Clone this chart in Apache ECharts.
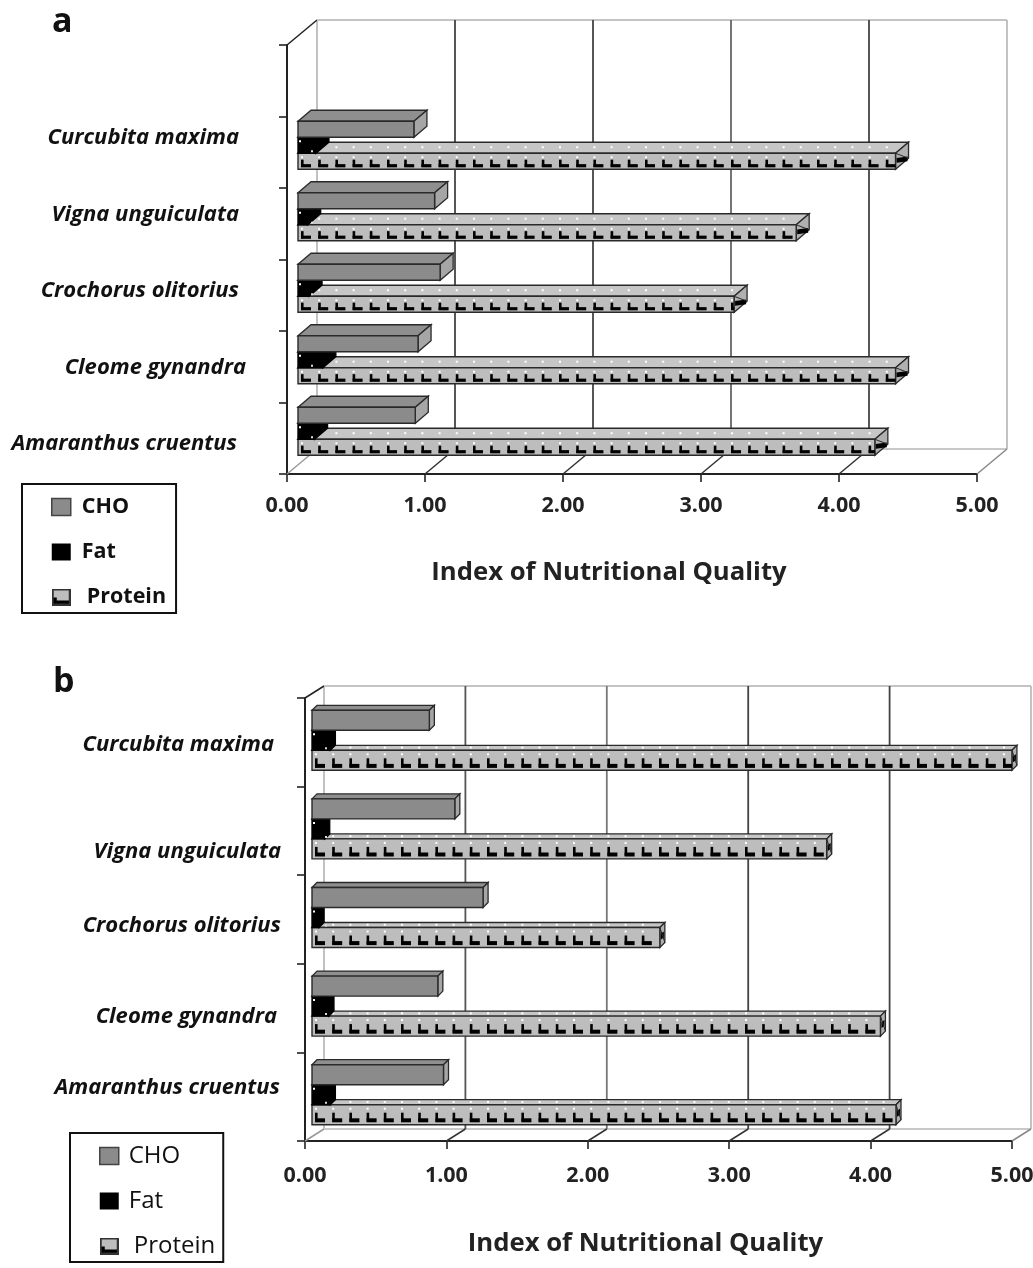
<!DOCTYPE html>
<html><head><meta charset="utf-8">
<style>html,body{margin:0;padding:0;background:#fff}#c{width:1033px;height:1268px;filter:blur(0.45px)}</style>
<script src="https://cdn.jsdelivr.net/npm/echarts@6/dist/echarts.min.js"></script>
</head><body><div id="c"></div>
<script>
// ---- data (bottom category first) ----
const categoriesA = ['Amaranthus cruentus','Cleome gynandra','Crochorus olitorius','Vigna unguiculata','Curcubita maxima',''];
const choA     = [0.85,0.87,1.03,0.99,0.84];
const fatA     = [0.12,0.18,0.08,0.07,0.13];
const proteinA = [4.18,4.33,3.16,3.61,4.33];

const categoriesB = ['Amaranthus cruentus','Cleome gynandra','Crochorus olitorius','Vigna unguiculata','Curcubita maxima'];
const choB     = [0.93,0.89,1.21,1.01,0.83];
const fatB     = [0.13,0.12,0.05,0.09,0.13];
const proteinB = [4.13,4.02,2.46,3.64,4.95];

const xTicks = [0,1,2,3,4,5];
const axisTitle = 'Index of Nutritional Quality';
const FONT = '"Open Sans", sans-serif';

// ---- per-panel styling ----
const panelA = {
  idx:0, left:287, width:690, top:45, height:429,
  wall:{dx:30,dy:-25}, bar:{dx:11,dy:-9}, face:{dx:13,dy:-11},
  barH:16, barTop:-31, period:17.2,
  labelShift:[5,1,-5,-9,-15,0], labelRight:[50,41,48,48,48,0],
  gridColors:['#bbb','#444','#444','#666','#444','#bbb'],
  floorColors:['#999','#333','#333','#333','#333','#888'],
  labelMargin:21, titleGap:86, titlePad:46,
  legend:{left:22,top:484,padL:29,padR:10,padT:12,padB:5,gap:23,font:21.5,weight:'bold',textGap:11}
};
const panelB = {
  idx:1, left:305, width:707, top:698, height:443,
  wall:{dx:19,dy:-12}, bar:{dx:7,dy:-5}, face:{dx:5,dy:-5},
  barH:20, barTop:-32, period:17.2,
  labelShift:[-9,9,6,21,2], labelRight:[25,28,24,24,31],
  gridColors:['#bbb','#555','#777','#444','#444','#bbb'],
  floorColors:['#999','#333','#333','#333','#333','#888'],
  labelMargin:24, titleGap:90, titlePad:26,
  legend:{left:70,top:1133,padL:29,padR:8,padT:11,padB:4,gap:21,font:24,weight:'normal',textGap:10}
};

function poly(points, fill, stroke, lw){
  return {type:'polygon',shape:{points},style:{fill,stroke:stroke||null,lineWidth:lw||1},silent:true};
}
function rect(x,y,w,h,fill){
  return {type:'rect',shape:{x,y,width:w,height:h},style:{fill},silent:true};
}
function line(x1,y1,x2,y2,stroke,lw){
  return {type:'line',shape:{x1,y1,x2,y2},style:{stroke,lineWidth:lw||1.5},silent:true};
}

function frameRender(p){
  return function(params, api){
    const cs = params.coordSys, v = api.value(0);
    const x = api.coord([v,0])[0];
    const top = cs.y, bottom = cs.y+cs.height;
    const w = p.wall, c = [];
    const i = xTicks.indexOf(v);
    c.push(line(x+w.dx,top+w.dy,x+w.dx,bottom+w.dy,p.gridColors[i],1.8));
    c.push(line(x,bottom,x+w.dx,bottom+w.dy,p.floorColors[i],1.5));
    if(i===0){
      c.push(line(x,top,x+w.dx,top+w.dy,'#222',1.5));
      c.push(line(x+w.dx,top+w.dy,cs.x+cs.width+w.dx,top+w.dy,'#c4c4c4',1.8));
      c.push(line(x+w.dx,bottom+w.dy,cs.x+cs.width+w.dx,bottom+w.dy,'#c8c8c8',1.8));
    }
    return {type:'group',children:c};
  };
}

function barRender(p, kind, slot){
  return function(params, api){
    const val = api.value(0), cat = api.value(1);
    const end = api.coord([val,cat]), start = api.coord([0,cat]);
    const cy = end[1];
    const x0 = start[0]+p.bar.dx, x1 = end[0]+p.bar.dx;
    const y0 = cy+p.barTop+slot*p.barH, y1 = y0+p.barH;
    const fx = p.face.dx, fy = p.face.dy, c = [];
    const edge = '#2a2a2a';
    const fills = {cho:['#8b8b8b','#8f8f8f','#a6a6a6'],fat:['#000','#000','#000'],protein:['#bdbdbd','#c6c6c6','#b0b0b0']}[kind];
    c.push(poly([[x0,y0],[x0+fx,y0+fy],[x1+fx,y0+fy],[x1,y0]],fills[1],kind==='fat'?'#000':edge,1.3));
    c.push(poly([[x1,y0],[x1+fx,y0+fy],[x1+fx,y1+fy],[x1,y1]],fills[2],kind==='fat'?'#000':edge,1.3));
    c.push({type:'rect',shape:{x:x0,y:y0,width:x1-x0,height:p.barH},style:{fill:fills[0],stroke:kind==='fat'?'#000':edge,lineWidth:1.4},silent:true});
    if(kind==='fat'){
      c.push(rect(x0+1,y0+3,2,2,'#fff'));
      c.push(rect(x0+13,y1-3,2,2,'#ddd'));
    }
    if(kind==='protein'){
      const H = p.barH;
      for(let x=x0+1; x<x1-4; x+=p.period){
        c.push(rect(x+2,y0+fy*0.55-1,2,2,'#fff'));
        c.push(rect(x+2,y0+3,2,2,'#fff'));
        c.push(rect(x+2,y0+H*0.4,2.6,H*0.45,'#000'));
        c.push(rect(x+2,y0+H*0.68,Math.min(10,x1-x-2),H*0.2,'#000'));
      }
      c.push(poly([[x1+1,y0+H*0.3],[x1+fx-1,y0+H*0.2],[x1+fx-1,y0+H*0.5],[x1+1,y0+H*0.6]],'#000'));
      c.push(line(x1,y0,x1+fx,y1+fy,edge,1));
    }
    return {type:'group',children:c};
  };
}

function swatch(){
  const cv = document.createElement('canvas'); cv.width=19; cv.height=17;
  const g = cv.getContext('2d');
  g.fillStyle='#bdbdbd'; g.fillRect(0,0,19,17);
  g.fillStyle='#000'; g.fillRect(2,9,3,6); g.fillRect(2,12,15,3);
  g.strokeStyle='#333'; g.lineWidth=2; g.strokeRect(1,1,17,15);
  return 'image://'+cv.toDataURL();
}

function axesFor(p, cats){
  const labelBase = {color:'#111',fontFamily:FONT,fontWeight:'bold',fontStyle:'italic',fontSize:22};
  const rich = {};
  cats.forEach((name,i)=>{
    const s = p.labelShift[i];
    rich['l'+i] = Object.assign({},labelBase,{padding:[s>0?2*s:0,p.labelRight[i],s<0?-2*s:0,0]});
  });
  const xAxis = {
    gridIndex:p.idx,type:'value',min:0,max:5,interval:1,
    axisLine:{show:true,onZero:false,lineStyle:{color:'#222',width:2}},
    axisTick:{show:true,length:8,lineStyle:{color:'#222',width:1.6}},
    splitLine:{show:false},
    axisLabel:{formatter:v=>v.toFixed(2),color:'#222',fontFamily:FONT,fontWeight:'bold',fontSize:21.5,margin:p.labelMargin,showMinLabel:true,showMaxLabel:true,hideOverlap:false},
    name:axisTitle,nameLocation:'middle',nameGap:p.titleGap,
    nameTextStyle:{color:'#222',fontFamily:FONT,fontWeight:'bold',fontSize:25.7,padding:[0,p.titlePad,0,0]}
  };
  const yAxis = {
    gridIndex:p.idx,type:'category',data:cats,
    axisLine:{show:true,onZero:false,lineStyle:{color:'#222',width:2}},
    axisTick:{show:true,length:8,alignWithLabel:false,lineStyle:{color:'#222',width:1.6}},
    axisLabel:Object.assign({},labelBase,{interval:0,margin:0,
      formatter:(value,i)=>value?`{l${i}|${value}}`:'',rich})
  };
  return {xAxis,yAxis};
}

function seriesFor(p, cho, fat, protein){
  const base = {type:'custom',xAxisIndex:p.idx,yAxisIndex:p.idx,clip:false,silent:true,encode:{x:0,y:1}};
  const rows = arr => arr.map((v,i)=>[v,i]);
  return [
    Object.assign({},base,{name:'frame'+p.idx,z:1,data:xTicks.map(t=>[t,0]),renderItem:frameRender(p)}),
    Object.assign({},base,{name:'Protein',z:2,itemStyle:{color:'#bdbdbd'},data:rows(protein),renderItem:barRender(p,'protein',2)}),
    Object.assign({},base,{name:'Fat',z:3,itemStyle:{color:'#000'},data:rows(fat),renderItem:barRender(p,'fat',1)}),
    Object.assign({},base,{name:'CHO',z:4,itemStyle:{color:'#8b8b8b'},data:rows(cho),renderItem:barRender(p,'cho',0)})
  ];
}

function legendFor(p){
  const L = p.legend;
  return {
    left:L.left,top:L.top,height:125,orient:'vertical',selectedMode:false,
    padding:[L.padT,L.padR,L.padB,L.padL],itemGap:L.gap,itemWidth:19,itemHeight:17,
    backgroundColor:'#fff',borderColor:'#111',borderWidth:2,
    textStyle:{color:'#111',fontFamily:FONT,fontWeight:L.weight,fontSize:L.font,lineHeight:20,padding:[0,0,0,L.textGap-5]},
    data:[
      {name:'CHO',icon:'rect',itemStyle:{color:'#8b8b8b',borderColor:'#444',borderWidth:1.5}},
      {name:'Fat',icon:'rect',itemStyle:{color:'#000'}},
      {name:'Protein',icon:swatch(),textStyle:{padding:[0,0,0,L.textGap]}}
    ]
  };
}

const a = axesFor(panelA,categoriesA), b = axesFor(panelB,categoriesB);
const chart = echarts.init(document.getElementById('c'),null,{renderer:'canvas'});
chart.setOption({
  animation:false,
  backgroundColor:'#fff',
  title:[
    {text:'a',left:47,top:0,textStyle:{color:'#111',fontFamily:FONT,fontWeight:'bold',fontSize:34}},
    {text:'b',left:48,top:660,textStyle:{color:'#111',fontFamily:FONT,fontWeight:'bold',fontSize:34}}
  ],
  grid:[panelA,panelB].map(p=>({left:p.left,top:p.top,width:p.width,height:p.height,containLabel:false,outerBoundsMode:'none'})),
  xAxis:[a.xAxis,b.xAxis],
  yAxis:[a.yAxis,b.yAxis],
  legend:[legendFor(panelA),legendFor(panelB)],
  series:[...seriesFor(panelA,choA,fatA,proteinA),...seriesFor(panelB,choB,fatB,proteinB)]
});
</script></body></html>
